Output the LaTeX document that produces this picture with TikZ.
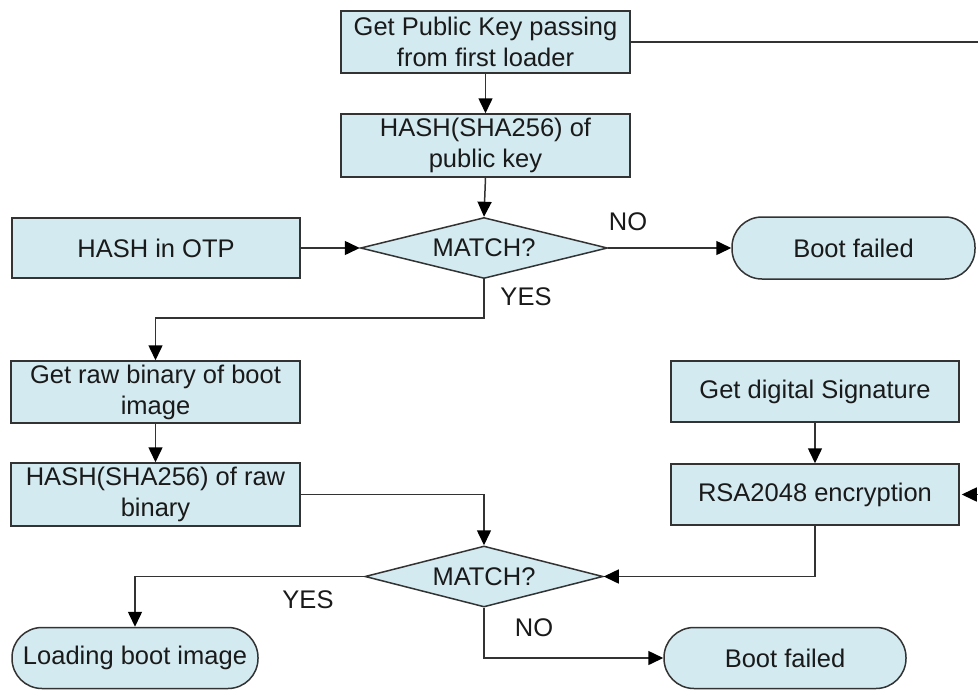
\documentclass[tikz,border=0pt]{standalone}
\usepackage{fontspec}
\setmainfont{Liberation Sans}
\usetikzlibrary{shapes.geometric,arrows.meta}
\definecolor{boxfill}{HTML}{D3EAF0}
\definecolor{edge}{HTML}{333333}
\definecolor{ink}{HTML}{1A1A1A}
\begin{document}
\begin{tikzpicture}[x=1pt,y=-1pt,
  every node/.style={font=\fontsize{25.5}{31}\selectfont, text=ink},
  procbox/.style={draw=edge, fill=boxfill, line width=1.5pt, rectangle, inner sep=0pt, align=center},
  termbox/.style={draw=edge, fill=boxfill, line width=1.5pt, rectangle, rounded corners=30pt, inner sep=0pt, align=center},
  decide/.style={draw=edge, fill=boxfill, line width=1.5pt, diamond, aspect=4, inner sep=0pt},
  flow/.style={draw=edge, line width=1.5pt, -{Triangle[length=15pt,width=14pt,color=black]}},
  lbl/.style={inner sep=0pt}]
\useasboundingbox[fill=white] (0,0) rectangle (978,689);

% key check branch
\node[procbox, minimum width=289pt, minimum height=62pt] (pk) at (485.5,42) {Get Public Key passing\\from first loader};
\node[procbox, minimum width=289pt, minimum height=63pt] (hpk) at (485.5,145.5) {HASH(SHA256) of\\public key};
\node[decide, minimum width=247pt, minimum height=61pt] (m1) at (484,248) {MATCH?};
\node[procbox, minimum width=288pt, minimum height=60pt] (otp) at (156,248) {HASH in OTP};
\node[termbox, minimum width=243pt, minimum height=62pt] (bf1) at (853.5,248) {Boot failed};

% image check branch
\node[procbox, minimum width=289pt, minimum height=62pt] (raw) at (155.5,392) {Get raw binary of boot\\image};
\node[procbox, minimum width=289pt, minimum height=63pt] (hraw) at (155.5,494.5) {HASH(SHA256) of raw\\binary};
\node[procbox, minimum width=288pt, minimum height=61pt] (sig) at (815,391.5) {Get digital Signature};
\node[procbox, minimum width=288pt, minimum height=61pt] (rsa) at (815,494.5) {RSA2048 encryption};
\node[decide, minimum width=238pt, minimum height=61pt] (m2) at (484,576.5) {MATCH?};
\node[termbox, minimum width=246pt, minimum height=61pt] (load) at (135,658) {Loading boot image};
\node[termbox, minimum width=242pt, minimum height=61pt] (bf2) at (785,658) {Boot failed};

% routing points
\coordinate (j1) at (484,318);
\coordinate (rt) at (984,42);
\coordinate (rb) at (984,494.5);

% connectors
\draw[flow] (pk.south) -- (hpk.north);
\draw[flow] (hpk.south) -- (m1.north);
\draw[flow] (otp.east) -- (m1.west);
\draw[flow] (m1.east) -- (bf1.west);
\draw[flow] (m1.south) -- (j1) -| (raw.north);
\draw[flow] (raw.south) -- (hraw.north);
\draw[flow] (hraw.east) -| (m2.north);
\draw[flow] (sig.south) -- (rsa.north);
\draw[flow] (rsa.south) |- (m2.east);
\draw[flow] (m2.west) -| (load.north);
\draw[flow] (m2.south) |- (bf2.west);
\draw[flow] (pk.east) -- (rt) -- (rb) -- ([xshift=2pt]rsa.east);

% branch labels
\node[lbl] (no1) at (628,222) {NO};
\node[lbl] (yes1) at (526,297) {YES};
\node[lbl] (yes2) at (308,600) {YES};
\node[lbl] (no2) at (534,628) {NO};
\end{tikzpicture}
\end{document}
